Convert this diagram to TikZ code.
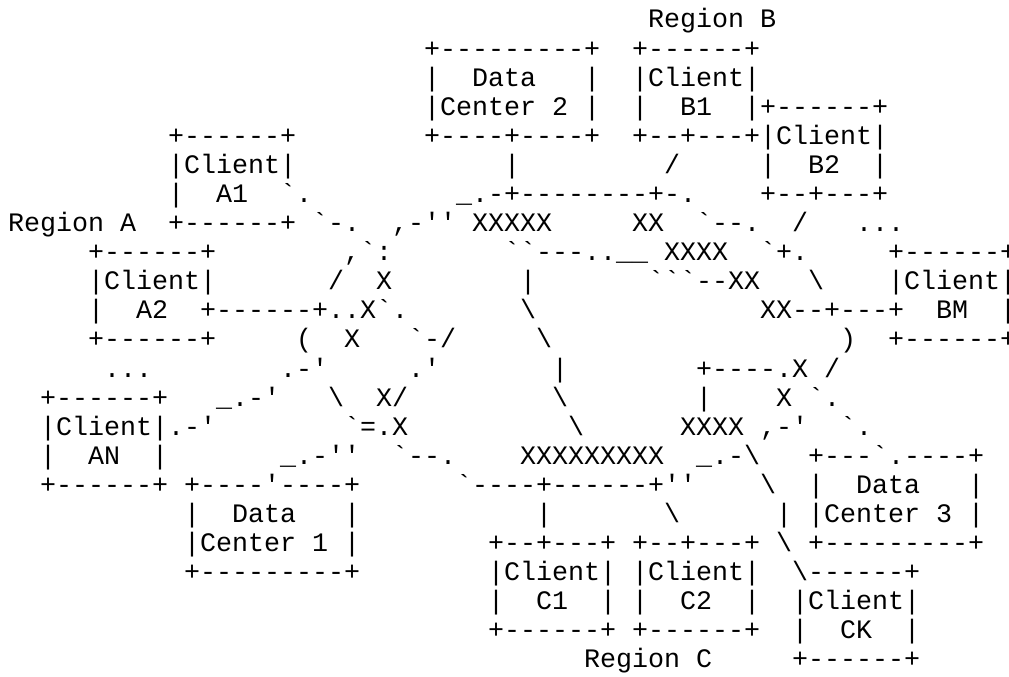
\documentclass[tikz,border=0pt]{standalone}
\usepackage{fontspec}
\setmonofont{Liberation Mono}
\begin{document}
\begin{tikzpicture}[x=0.75pt,y=-0.75pt,
  asc/.style={anchor=base west, inner sep=0pt, outer sep=0pt,
              font=\ttfamily\fontsize{20pt}{22pt}\selectfont}]
% canvas
\fill[white] (0,0) rectangle (1009,677);
\useasboundingbox (0,0) rectangle (1009,677);
\clip (0,0) rectangle (1009,677);
% one node per text row: x = left edge of column, y = baseline of row
\node[asc] (l0)  at ({8+16*40},{28+29.09*0})  {Region~B};
\node[asc] (l1)  at ({8+16*26},{28+29.09*1})  {+---------+~~+------+};
\node[asc] (l2)  at ({8+16*26},{28+29.09*2})  {|~~Data~~~|~~|Client|};
\node[asc] (l3)  at ({8+16*26},{28+29.09*3})  {|Center~2~|~~|~~B1~~|+------+};
\node[asc] (l4)  at ({8+16*10},{28+29.09*4})  {+------+~~~~~~~~+----+----+~~+--+---+|Client|};
\node[asc] (l5)  at ({8+16*10},{28+29.09*5})  {|Client|~~~~~~~~~~~~~|~~~~~~~~~/~~~~~|~~B2~~|};
\node[asc] (l6)  at ({8+16*10},{28+29.09*6})  {|~~A1~~`.~~~~~~~~~\_.-+--------+-.~~~~+--+---+};
\node[asc] (l7)  at ({8+16*0},{28+29.09*7})   {Region~A~~+------+~`-.~~,-''~XXXXX~~~~~XX~~`--.~~/~~~...};
\node[asc] (l8)  at ({8+16*5},{28+29.09*8})   {+------+~~~~~~~~,`:~~~~~~~``---..\_\_~XXXX~~`+.~~~~~+------+};
\node[asc] (l9)  at ({8+16*5},{28+29.09*9})   {|Client|~~~~~~~/~~X~~~~~~~~|~~~~~~~```--XX~~~\textbackslash~~~~|Client|};
\node[asc] (l10) at ({8+16*5},{28+29.09*10})  {|~~A2~~+------+..X`.~~~~~~~\textbackslash~~~~~~~~~~~~~~XX--+---+~~BM~~|};
\node[asc] (l11) at ({8+16*5},{28+29.09*11})  {+------+~~~~~(~~X~~~`-/~~~~~\textbackslash~~~~~~~~~~~~~~~~~~)~~+------+};
\node[asc] (l12) at ({8+16*6},{28+29.09*12})  {...~~~~~~~~.-'~~~~~.'~~~~~~~|~~~~~~~~+----.X~/};
\node[asc] (l13) at ({8+16*2},{28+29.09*13})  {+------+~~~\_.-'~~~\textbackslash~~X/~~~~~~~~~\textbackslash~~~~~~~~|~~~~X~`.};
\node[asc] (l14) at ({8+16*2},{28+29.09*14})  {|Client|.-'~~~~~~~~`=.X~~~~~~~~~~\textbackslash~~~~~~XXXX~,-'~~`.};
\node[asc] (l15) at ({8+16*2},{28+29.09*15})  {|~~AN~~|~~~~~~~\_.-''~~`--.~~~~XXXXXXXXX~~\_.-\textbackslash~~~+---`.----+};
\node[asc] (l16) at ({8+16*2},{28+29.09*16})  {+------+~+----'----+~~~~~~`----+------+''~~~~\textbackslash~~|~~Data~~~|};
\node[asc] (l17) at ({8+16*11},{28+29.09*17}) {|~~Data~~~|~~~~~~~~~~~|~~~~~~~\textbackslash~~~~~~|~|Center~3~|};
\node[asc] (l18) at ({8+16*11},{28+29.09*18}) {|Center~1~|~~~~~~~~+--+---+~+--+---+~\textbackslash~+---------+};
\node[asc] (l19) at ({8+16*11},{28+29.09*19}) {+---------+~~~~~~~~|Client|~|Client|~~\textbackslash------+};
\node[asc] (l20) at ({8+16*30},{28+29.09*20}) {|~~C1~~|~|~~C2~~|~~|Client|};
\node[asc] (l21) at ({8+16*30},{28+29.09*21}) {+------+~+------+~~|~~CK~~|};
\node[asc] (l22) at ({8+16*36},{28+29.09*22}) {Region~C~~~~~+------+};
\end{tikzpicture}
\end{document}
